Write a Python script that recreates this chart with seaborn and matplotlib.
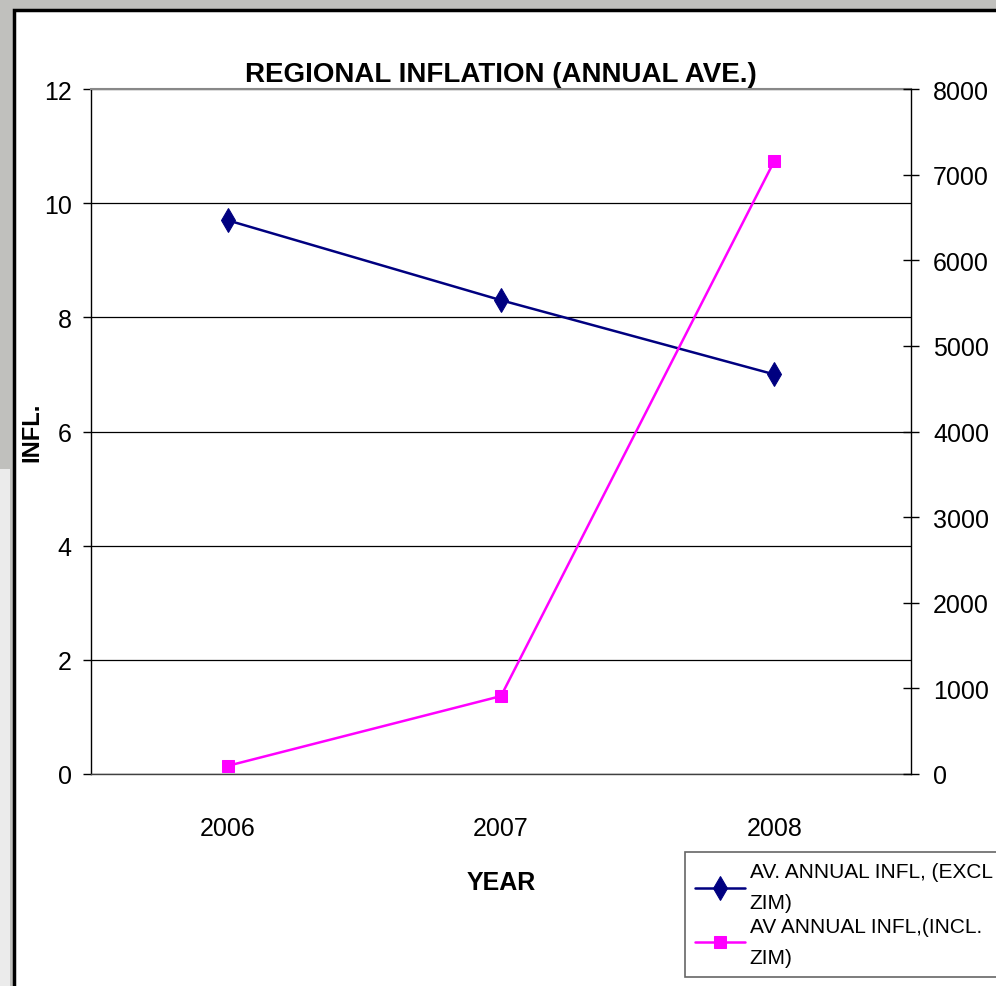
import matplotlib
matplotlib.use("Agg")
import matplotlib.pyplot as plt
from matplotlib.patches import Rectangle
import pandas as pd
import seaborn as sns

# data
years = ["2006", "2007", "2008"]
excl_zim = [9.7, 8.3, 7.0]          # left axis
incl_zim = [95, 910, 7160]          # right axis
label_excl = "AV. ANNUAL INFL, (EXCL\nZIM)"
label_incl = "AV ANNUAL INFL,(INCL.\nZIM)"

sns.set_style("white")
plt.rcParams["font.family"] = ["Liberation Sans Narrow", "Liberation Sans", "DejaVu Sans"]
plt.rcParams.update({"text.color": "black", "axes.labelcolor": "black",
                     "xtick.color": "black", "ytick.color": "black"})

W, H = 996, 987
fig = plt.figure(figsize=(W / 100, H / 100), dpi=100, facecolor="#c0c0bd")

# white chart panel with black frame (runs off the screenshot right/bottom)
fig.patches.append(Rectangle((14 / W, -0.05), 1.1, 1 - 11 / H + 0.05, transform=fig.transFigure,
                             facecolor="white", edgecolor="black", linewidth=2.5, zorder=-2))
fig.patches.append(Rectangle((0, 0), 10 / W, 1 - 470 / H, transform=fig.transFigure,
                             facecolor="#ebebeb", edgecolor="none", zorder=-2))

ax = fig.add_axes([91 / W, 1 - 775 / H, 820 / W, 685 / H])
ax.set_facecolor("white")
df = pd.DataFrame({"x": range(len(years)), "excl": excl_zim, "incl": incl_zim})

sns.lineplot(data=df, x="x", y="excl", ax=ax, color="#000080", marker="d", markersize=12,
             markeredgecolor="#000080", linewidth=1.8, label=label_excl, legend=False)
ax.set_xlim(-0.5, 2.5)
ax.set_ylim(0, 12)
ax.set_yticks(range(0, 13, 2))
ax.set_yticklabels([str(v) for v in range(0, 13, 2)], fontsize=18)
ax.set_xticks([-0.5, 0.5, 1.5, 2.5])
ax.set_xticklabels([])
ax.set_xticks(range(len(years)), minor=True)
ax.set_xticklabels(years, minor=True, fontsize=18)
ax.tick_params(axis="x", which="major", direction="out", length=10, width=1, color="black")
ax.tick_params(axis="x", which="minor", length=0, pad=30)
ax.tick_params(axis="y", direction="out", length=6, width=1, color="black", left=True, pad=8)
ax.grid(axis="y", color="black", linewidth=0.9)
ax.grid(axis="x", visible=False)
for s in ["left", "bottom"]:
    ax.spines[s].set_color("black")
    ax.spines[s].set_linewidth(1.0)
ax.spines["bottom"].set_color("#404040")
ax.spines["top"].set_color("#888888")
ax.spines["top"].set_linewidth(1.5)
ax.spines["right"].set_visible(False)

ax.set_xlabel("YEAR", fontsize=18, fontweight="bold", labelpad=22)
ax.set_ylabel("INFL.", fontsize=17, fontweight="bold")
ax.yaxis.set_label_coords((43 - 91) / 820, 0.5)
ax.set_title("REGIONAL INFLATION (ANNUAL AVE.)", fontsize=20, fontweight="bold", pad=6)

ax2 = ax.twinx()
sns.lineplot(data=df, x="x", y="incl", ax=ax2, color="#ff00ff", marker="s", markersize=9,
             markeredgecolor="#ff00ff", linewidth=1.8, label=label_incl, legend=False)
ax2.set_ylim(0, 8000)
ax2.set_yticks(range(0, 8001, 1000))
ax2.set_yticklabels([str(v) for v in range(0, 8001, 1000)], fontsize=18)
ax2.tick_params(axis="y", direction="inout", length=12, width=1, color="black", right=True, pad=10)
ax2.set_ylabel("")
ax2.set_xlabel("")
for s in ["left", "top", "bottom"]:
    ax2.spines[s].set_visible(False)
ax2.spines["right"].set_color("black")
ax2.spines["right"].set_linewidth(1.0)

h1, l1 = ax.get_legend_handles_labels()
h2, l2 = ax2.get_legend_handles_labels()
leg = fig.legend(h1 + h2, l1 + l2, loc="upper left", bbox_to_anchor=(685 / W, 1 - 853 / H),
                 fontsize=15, frameon=True, fancybox=False, borderpad=0.5, handlelength=2.4,
                 handletextpad=0.2, labelspacing=0.2, borderaxespad=0)
for t in leg.get_texts():
    t.set_linespacing(1.8)
leg.get_frame().set_edgecolor("#404040")
leg.get_frame().set_linewidth(1.2)

fig.savefig("out.png", dpi=100, facecolor=fig.get_facecolor())
